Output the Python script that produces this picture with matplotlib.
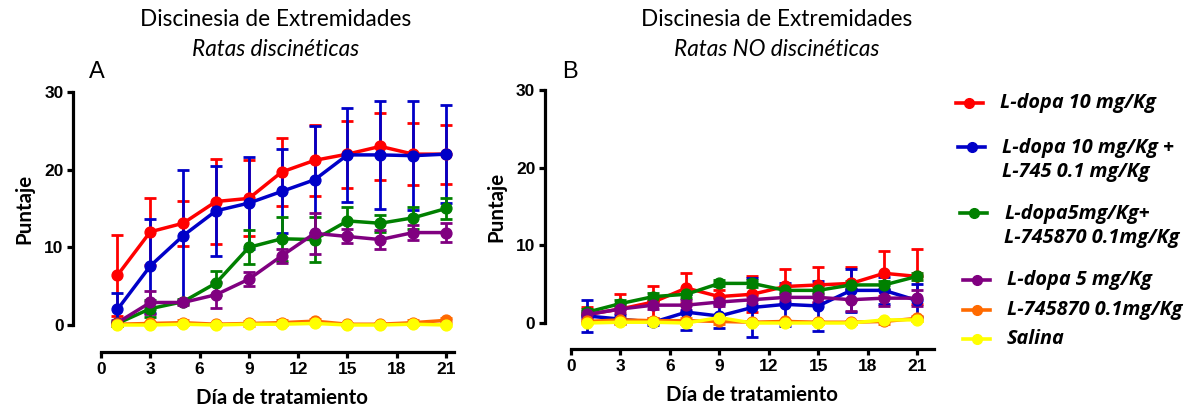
import numpy as np
import matplotlib
matplotlib.use("Agg")
import matplotlib.pyplot as plt
from matplotlib.lines import Line2D

# Días de tratamiento
dias = [1, 3, 5, 7, 9, 11, 13, 15, 17, 19, 21]

# Panel A: ratas discinéticas (media y error)
a_ld10 = [6.4, 12.0, 13.1, 15.9, 16.3, 19.7, 21.2, 22.0, 23.0, 22.0, 22.0]
a_ld10_err = [5.2, 4.3, 2.9, 5.5, 4.9, 4.4, 4.6, 4.3, 4.3, 4.0, 3.8]
a_ld10_l745 = [2.0, 7.6, 11.5, 14.7, 15.7, 17.2, 18.7, 21.9, 21.9, 21.8, 22.0]
a_ld10_l745_err = [2.1, 6.1, 8.4, 5.8, 5.9, 5.4, 6.9, 6.0, 7.0, 7.0, 6.3]
a_ld5_l745 = [0.2, 2.1, 3.0, 5.4, 10.0, 11.1, 11.0, 13.4, 13.1, 13.8, 15.0]
a_ld5_l745_err = [0.3, 1.1, 0.3, 1.6, 2.2, 2.8, 2.9, 1.8, 1.1, 1.4, 1.4]
a_ld5 = [0.3, 2.9, 2.9, 3.9, 5.9, 8.9, 11.8, 11.4, 11.0, 11.9, 11.9]
a_ld5_err = [0.3, 1.5, 0.3, 1.7, 0.9, 0.9, 2.6, 0.9, 1.2, 1.0, 1.2]
a_l745 = [0.1, 0.2, 0.3, 0.1, 0.2, 0.3, 0.5, 0.1, 0.1, 0.3, 0.6]
a_l745_err = [0.1, 0.2, 0.3, 0.1, 0.3, 0.3, 0.3, 0.1, 0.1, 0.3, 0.3]
a_salina = [0.0, 0.0, 0.1, 0.0, 0.1, 0.1, 0.2, 0.0, 0.0, 0.1, 0.0]
a_salina_err = [0.1, 0.1, 0.1, 0.1, 0.1, 0.1, 0.1, 0.1, 0.1, 0.1, 0.1]

# Panel B: ratas NO discinéticas
b_ld10 = [1.1, 1.8, 2.7, 4.5, 3.4, 3.7, 4.7, 4.9, 5.1, 6.4, 6.0]
b_ld10_err = [1.0, 1.9, 2.1, 1.9, 0.8, 2.3, 2.3, 2.3, 2.1, 2.9, 3.5]
b_ld10_l745 = [0.9, 0.5, 0.1, 1.4, 0.9, 2.0, 2.4, 2.2, 4.2, 4.2, 2.9]
b_ld10_l745_err = [2.1, 0.5, 0.3, 2.3, 1.5, 3.8, 2.8, 3.2, 2.8, 1.7, 2.1]
b_ld5_l745 = [1.4, 2.5, 3.4, 3.7, 5.1, 5.1, 4.2, 4.2, 4.9, 4.9, 6.0]
b_ld5_l745_err = [0.4, 0.5, 0.5, 0.5, 0.4, 0.5, 0.5, 0.5, 0.5, 0.5, 0.5]
b_ld5 = [1.1, 1.8, 2.3, 2.3, 2.7, 3.0, 3.3, 3.3, 3.0, 3.2, 3.2]
b_ld5_err = [0.4, 0.5, 0.5, 0.6, 0.5, 0.5, 0.5, 0.6, 1.4, 1.0, 1.0]
b_l745 = [0.2, 0.4, 0.3, 0.3, 0.2, 0.1, 0.2, 0.1, 0.1, 0.2, 0.6]
b_l745_err = [0.2, 0.3, 0.3, 0.4, 0.3, 0.2, 0.2, 0.2, 0.2, 0.3, 0.3]
b_salina = [0.0, 0.1, 0.1, 0.0, 0.7, 0.0, 0.0, 0.0, 0.0, 0.4, 0.4]
b_salina_err = [0.1, 0.1, 0.1, 0.1, 0.1, 0.1, 0.1, 0.1, 0.1, 0.1, 0.1]

etiquetas = ["L-dopa 10 mg/Kg",
             "L-dopa 10 mg/Kg +\nL-745 0.1 mg/Kg",
             "L-dopa5mg/Kg+\nL-745870 0.1mg/Kg",
             "L-dopa 5 mg/Kg",
             "L-745870 0.1mg/Kg",
             "Salina"]
colores = ["#ff0000", "#0000c8", "#008000", "#800080", "#ff6a00", "#ffff00"]

xticks = [0, 3, 6, 9, 12, 15, 18, 21]
yticks = [0, 10, 20, 30]

W, H = 1201, 415
fig = plt.figure(figsize=(W / 100, H / 100), dpi=100)

tick_font = dict(family="Liberation Sans", weight="bold", size=12.5)
label_font = dict(family="Lato", weight="bold", size=14.8)


def panel(rect, series, errs, xmax, off_left, off_bottom):
    ax = fig.add_axes(rect)
    for y, e, c in zip(series, errs, colores):
        ax.errorbar(dias, y, yerr=e, color=c, lw=2.5, marker="o", ms=7.8,
                    elinewidth=2.0, capsize=4.5, capthick=2.0, clip_on=False)
    ax.set_xlim(0, 22)
    ax.set_ylim(0, 30)
    for s in ["top", "right"]:
        ax.spines[s].set_visible(False)
    ax.spines["left"].set_position(("outward", off_left))
    ax.spines["bottom"].set_position(("outward", off_bottom))
    ax.spines["left"].set_bounds(0, 30)
    ax.spines["bottom"].set_bounds(0, xmax)
    for s in ["left", "bottom"]:
        ax.spines[s].set_linewidth(2.3)
    ax.tick_params(width=2.3, length=4.5, pad=2.5)
    ax.set_xticks(xticks)
    ax.set_yticks(yticks)
    ax.set_xticklabels([str(t) for t in xticks], **tick_font)
    ax.set_yticklabels([str(t) for t in yticks], **tick_font)
    ax.set_xlabel("Día de tratamiento", labelpad=8, **label_font)
    ax.set_ylabel("Puntaje", labelpad=7, **label_font)
    return ax


def rect(x0, x_per, y0, y30):
    return [x0 / W, (H - y0) / H, 22 * x_per / W, (y0 - y30) / H]


axA = panel(rect(101, 16.43, 325, 92),
            [a_ld10, a_ld10_l745, a_ld5_l745, a_ld5, a_l745, a_salina],
            [a_ld10_err, a_ld10_l745_err, a_ld5_l745_err, a_ld5_err, a_l745_err, a_salina_err],
            21.5, 20, 19.5)
axB = panel(rect(571, 16.48, 323, 90),
            [b_ld10, b_ld10_l745, b_ld5_l745, b_ld5, b_l745, b_salina],
            [b_ld10_err, b_ld10_l745_err, b_ld5_l745_err, b_ld5_err, b_l745_err, b_salina_err],
            22, 18.7, 18.7)

# Títulos
title_font = dict(family="Lato", size=16.3)
for cx, sub in [(276, "Ratas discinéticas"), (777, "Ratas NO discinéticas")]:
    fig.text(cx / W, 1 - 19 / H, "Discinesia de Extremidades", ha="center", va="center", **title_font)
    fig.text(cx / W, 1 - 50 / H, sub, ha="center", va="center", style="italic", **title_font)

fig.text(97 / W, 1 - 72 / H, "A", ha="center", va="center", family="Liberation Sans", size=17)
fig.text(570 / W, 1 - 72 / H, "B", ha="center", va="center", family="Liberation Sans", size=17)

# Leyenda dibujada a mano
ley_y = [103, 147, 213, 280, 310, 339]
ley_x = [956, 958, 960, 963, 963, 963]
for lab, c, yy, xx in zip(etiquetas, colores, ley_y, ley_x):
    fig.add_artist(Line2D([xx / W, (xx + 27) / W], [1 - yy / H, 1 - yy / H],
                          color=c, lw=2.6, transform=fig.transFigure))
    fig.add_artist(Line2D([(xx + 13.5) / W], [1 - yy / H], color=c, marker="o", ms=7,
                          transform=fig.transFigure))
    n = lab.count("\n")
    fig.text((xx + 44) / W, 1 - (yy + n * 13) / H, lab, ha="left", va="center",
             family="Open Sans", weight="bold", style="italic", size=14.3, linespacing=1.25)

fig.savefig("out.png", dpi=100)
